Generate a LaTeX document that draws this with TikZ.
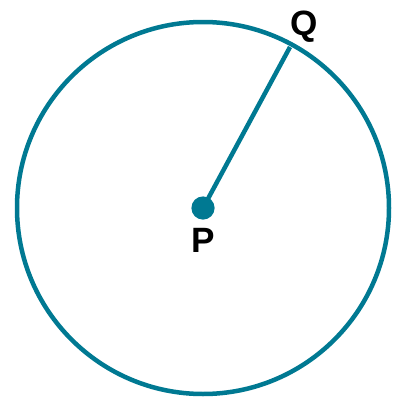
\documentclass[tikz,border=0pt]{standalone}
\usepackage{fontspec}
\setmainfont{Liberation Sans}
\definecolor{radteal}{RGB}{0,121,146}
\begin{document}
\begin{tikzpicture}[x=0.025cm,y=-0.025cm,line width=3.2pt,draw=radteal]
	\useasboundingbox (0,0) rectangle (400,401);
	\draw (203,208) circle [radius=186];
	\node (P) at (203,208)	[circle, fill = radteal, inner sep = 0pt, minimum size = 0.58cm]	{};
	\coordinate (Q) at (290,47);
	\node (Plabel) at (203,240)	[font=\bfseries\fontsize{25}{30}\selectfont]	{P};
	\node (Qlabel) at (304,27)	[font=\bfseries\fontsize{25}{30}\selectfont]	{Q};
	\draw (P.center) -- (Q);
\end{tikzpicture}
\end{document}
